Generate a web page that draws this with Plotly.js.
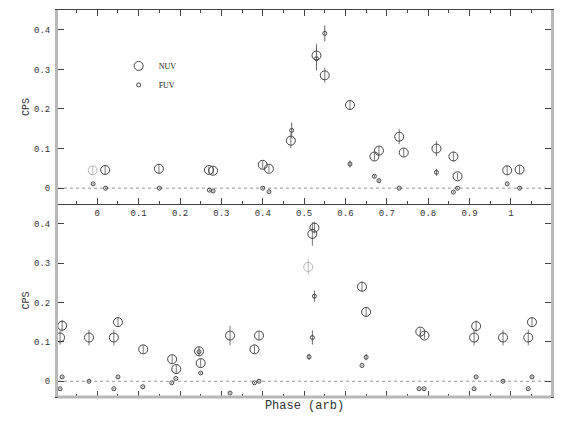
<!DOCTYPE html>
<html>
<head>
<meta charset="utf-8">
<script src="https://cdn.plot.ly/plotly-3.0.1.min.js"></script>
<style>
  html, body { margin: 0; padding: 0; background: #fff; }
  #chart { width: 580px; height: 430px; }
</style>
</head>
<body>
<div id="chart"></div>
<script>
// top panel
const topNuvPhase = [0.019, 0.149, 0.270, 0.280, 0.400, 0.415, 0.468, 0.530, 0.550, 0.611, 0.670, 0.681, 0.730, 0.741, 0.820, 0.861, 0.871, 0.991, 1.021];
const topNuvCps   = [0.046, 0.049, 0.046, 0.044, 0.059, 0.049, 0.120, 0.335, 0.285, 0.210, 0.080, 0.095, 0.130, 0.090, 0.100, 0.080, 0.030, 0.045, 0.047];
const topNuvErr   = [0.012, 0.012, 0.008, 0.008, 0.010, 0.008, 0.019, 0.030, 0.019, 0.010, 0.010, 0.010, 0.019, 0.010, 0.019, 0.012, 0.008, 0.012, 0.010];
const topNuvGrayPhase = [-0.011];
const topNuvGrayCps   = [0.045];
const topNuvGrayErr   = [0.012];

const topFuvPhase = [-0.010, 0.020, 0.150, 0.271, 0.280, 0.400, 0.415, 0.470, 0.530, 0.550, 0.611, 0.670, 0.681, 0.730, 0.820, 0.861, 0.871, 0.991, 1.021];
const topFuvCps   = [0.011, 0.000, 0.000, -0.005, -0.007, 0.000, -0.009, 0.146, 0.327, 0.391, 0.061, 0.030, 0.019, 0.000, 0.040, -0.010, 0.000, 0.011, 0.000];
const topFuvErr   = [0.002, 0.002, 0.002, 0.002, 0.002, 0.002, 0.002, 0.020, 0.030, 0.020, 0.009, 0.003, 0.003, 0.002, 0.009, 0.002, 0.002, 0.002, 0.002];

// bottom panel
const botNuvPhase = [-0.090, -0.085, -0.020, 0.040, 0.050, 0.111, 0.181, 0.191, 0.246, 0.250, 0.321, 0.380, 0.391, 0.520, 0.525, 0.640, 0.650, 0.781, 0.791, 0.911, 0.916, 0.981, 1.042, 1.051];
const botNuvCps   = [0.111, 0.141, 0.111, 0.111, 0.150, 0.081, 0.056, 0.031, 0.076, 0.046, 0.116, 0.081, 0.116, 0.374, 0.390, 0.240, 0.176, 0.126, 0.116, 0.111, 0.140, 0.111, 0.111, 0.150];
const botNuvErr   = [0.018, 0.015, 0.020, 0.020, 0.012, 0.010, 0.010, 0.012, 0.012, 0.010, 0.025, 0.010, 0.010, 0.030, 0.015, 0.013, 0.013, 0.008, 0.008, 0.020, 0.014, 0.020, 0.020, 0.012];
const botNuvGrayPhase = [0.510];
const botNuvGrayCps   = [0.290];
const botNuvGrayErr   = [0.019];

const botFuvPhase = [-0.090, -0.085, -0.020, 0.040, 0.050, 0.110, 0.180, 0.190, 0.246, 0.250, 0.321, 0.380, 0.391, 0.512, 0.520, 0.525, 0.640, 0.650, 0.778, 0.790, 0.911, 0.916, 0.981, 1.042, 1.051];
const botFuvCps   = [-0.019, 0.011, 0.000, -0.019, 0.011, -0.014, -0.004, 0.007, 0.075, 0.021, -0.030, -0.004, 0.000, 0.062, 0.111, 0.216, 0.040, 0.061, -0.019, -0.019, -0.019, 0.011, 0.000, -0.019, 0.011];
const botFuvErr   = [0.002, 0.002, 0.002, 0.002, 0.002, 0.002, 0.002, 0.002, 0.002, 0.002, 0.002, 0.002, 0.002, 0.008, 0.018, 0.014, 0.002, 0.008, 0.002, 0.002, 0.002, 0.002, 0.002, 0.002, 0.002];

const tickFont = { family: 'Liberation Mono', size: 9, color: '#333' };

const nuvTrace = (x, y, err, xa, ya, color, barColor, name, legend) => ({
    type: 'scatter', mode: 'markers', x, y, xaxis: xa, yaxis: ya,
    name, showlegend: legend,
    marker: { symbol: 'circle-open', size: 9, color, line: { width: 1, color } },
    error_y: { type: 'data', array: err, visible: true, color: barColor, thickness: 1, width: 0 }
});
const fuvTrace = (x, y, err, xa, ya, name, legend) => ({
    type: 'scatter', mode: 'markers', x, y, xaxis: xa, yaxis: ya,
    name, showlegend: legend,
    marker: { symbol: 'circle-open', size: 4, color: '#444', line: { width: 1, color: '#444' } },
    error_y: { type: 'data', array: err, visible: true, color: '#666', thickness: 1, width: 0 }
});

const data = [
    nuvTrace(topNuvPhase, topNuvCps, topNuvErr, 'x', 'y', '#444', '#777', 'NUV', true),
    fuvTrace(topFuvPhase, topFuvCps, topFuvErr, 'x', 'y', 'FUV', true),
    nuvTrace(topNuvGrayPhase, topNuvGrayCps, topNuvGrayErr, 'x', 'y', '#b8b8b8', '#b8b8b8', 'NUV', false),
    nuvTrace(botNuvPhase, botNuvCps, botNuvErr, 'x2', 'y2', '#444', '#777', 'NUV', false),
    fuvTrace(botFuvPhase, botFuvCps, botFuvErr, 'x2', 'y2', 'FUV', false),
    nuvTrace(botNuvGrayPhase, botNuvGrayCps, botNuvGrayErr, 'x2', 'y2', '#b8b8b8', '#b8b8b8', 'NUV', false)
];

const xBase = {
    range: [-0.095, 1.097], tick0: 0, dtick: 0.1,
    ticks: 'inside', ticklen: 6, tickcolor: '#444',
    minor: { dtick: 0.05, ticks: 'inside', ticklen: 3, tickcolor: '#444' },
    showline: true, linecolor: '#444', linewidth: 1, mirror: 'ticks',
    showgrid: false, zeroline: false, tickfont: tickFont
};
const yBase = {
    range: [-0.04, 0.45], tick0: 0, dtick: 0.1,
    ticks: 'inside', ticklen: 6, tickcolor: '#444',
    showline: true, linecolor: '#b8b8b8', linewidth: 3, mirror: 'ticks',
    showgrid: false, zeroline: false, tickfont: tickFont, ticklabelstandoff: 3,
    title: { text: 'CPS', font: { family: 'Liberation Mono', size: 10, color: '#333' }, standoff: 3 }
};

const layout = {
    width: 580, height: 430,
    margin: { l: 58, r: 29, t: 10, b: 33 },
    paper_bgcolor: '#fff', plot_bgcolor: '#fff',
    showlegend: true,
    legend: {
        x: 0.123, y: 0.893, xanchor: 'left', yanchor: 'top',
        font: { family: 'Liberation Serif', size: 8, color: '#222' },
        bgcolor: 'rgba(0,0,0,0)'
    },
    xaxis: Object.assign({}, xBase, { anchor: 'y', domain: [0, 1] }),
    yaxis: Object.assign({}, yBase, { anchor: 'x', domain: [0.4987, 1] }),
    xaxis2: Object.assign({}, xBase, {
        anchor: 'y2', domain: [0, 1], showticklabels: false, mirror: false,
        title: { text: 'Phase (arb)', font: { family: 'Liberation Mono', size: 12, color: '#333' }, standoff: 3 }
    }),
    yaxis2: Object.assign({}, yBase, { anchor: 'x2', domain: [0, 0.4987] }),
    shapes: [
        { type: 'line', xref: 'x domain', x0: 0, x1: 1, yref: 'y', y0: 0, y1: 0, layer: 'below',
          line: { color: '#999', width: 1, dash: 'dot' } },
        { type: 'line', xref: 'x2 domain', x0: 0, x1: 1, yref: 'y2', y0: 0, y1: 0, layer: 'below',
          line: { color: '#999', width: 1, dash: 'dot' } },
        // grey bottom frame of the lower panel
        { type: 'line', xref: 'x2 domain', x0: 0, x1: 1, yref: 'y2 domain', y0: 0, y1: 0,
          line: { color: '#b8b8b8', width: 3 } }
    ]
};

Plotly.newPlot('chart', data, layout, { displayModeBar: false, staticPlot: true });
</script>
</body>
</html>
